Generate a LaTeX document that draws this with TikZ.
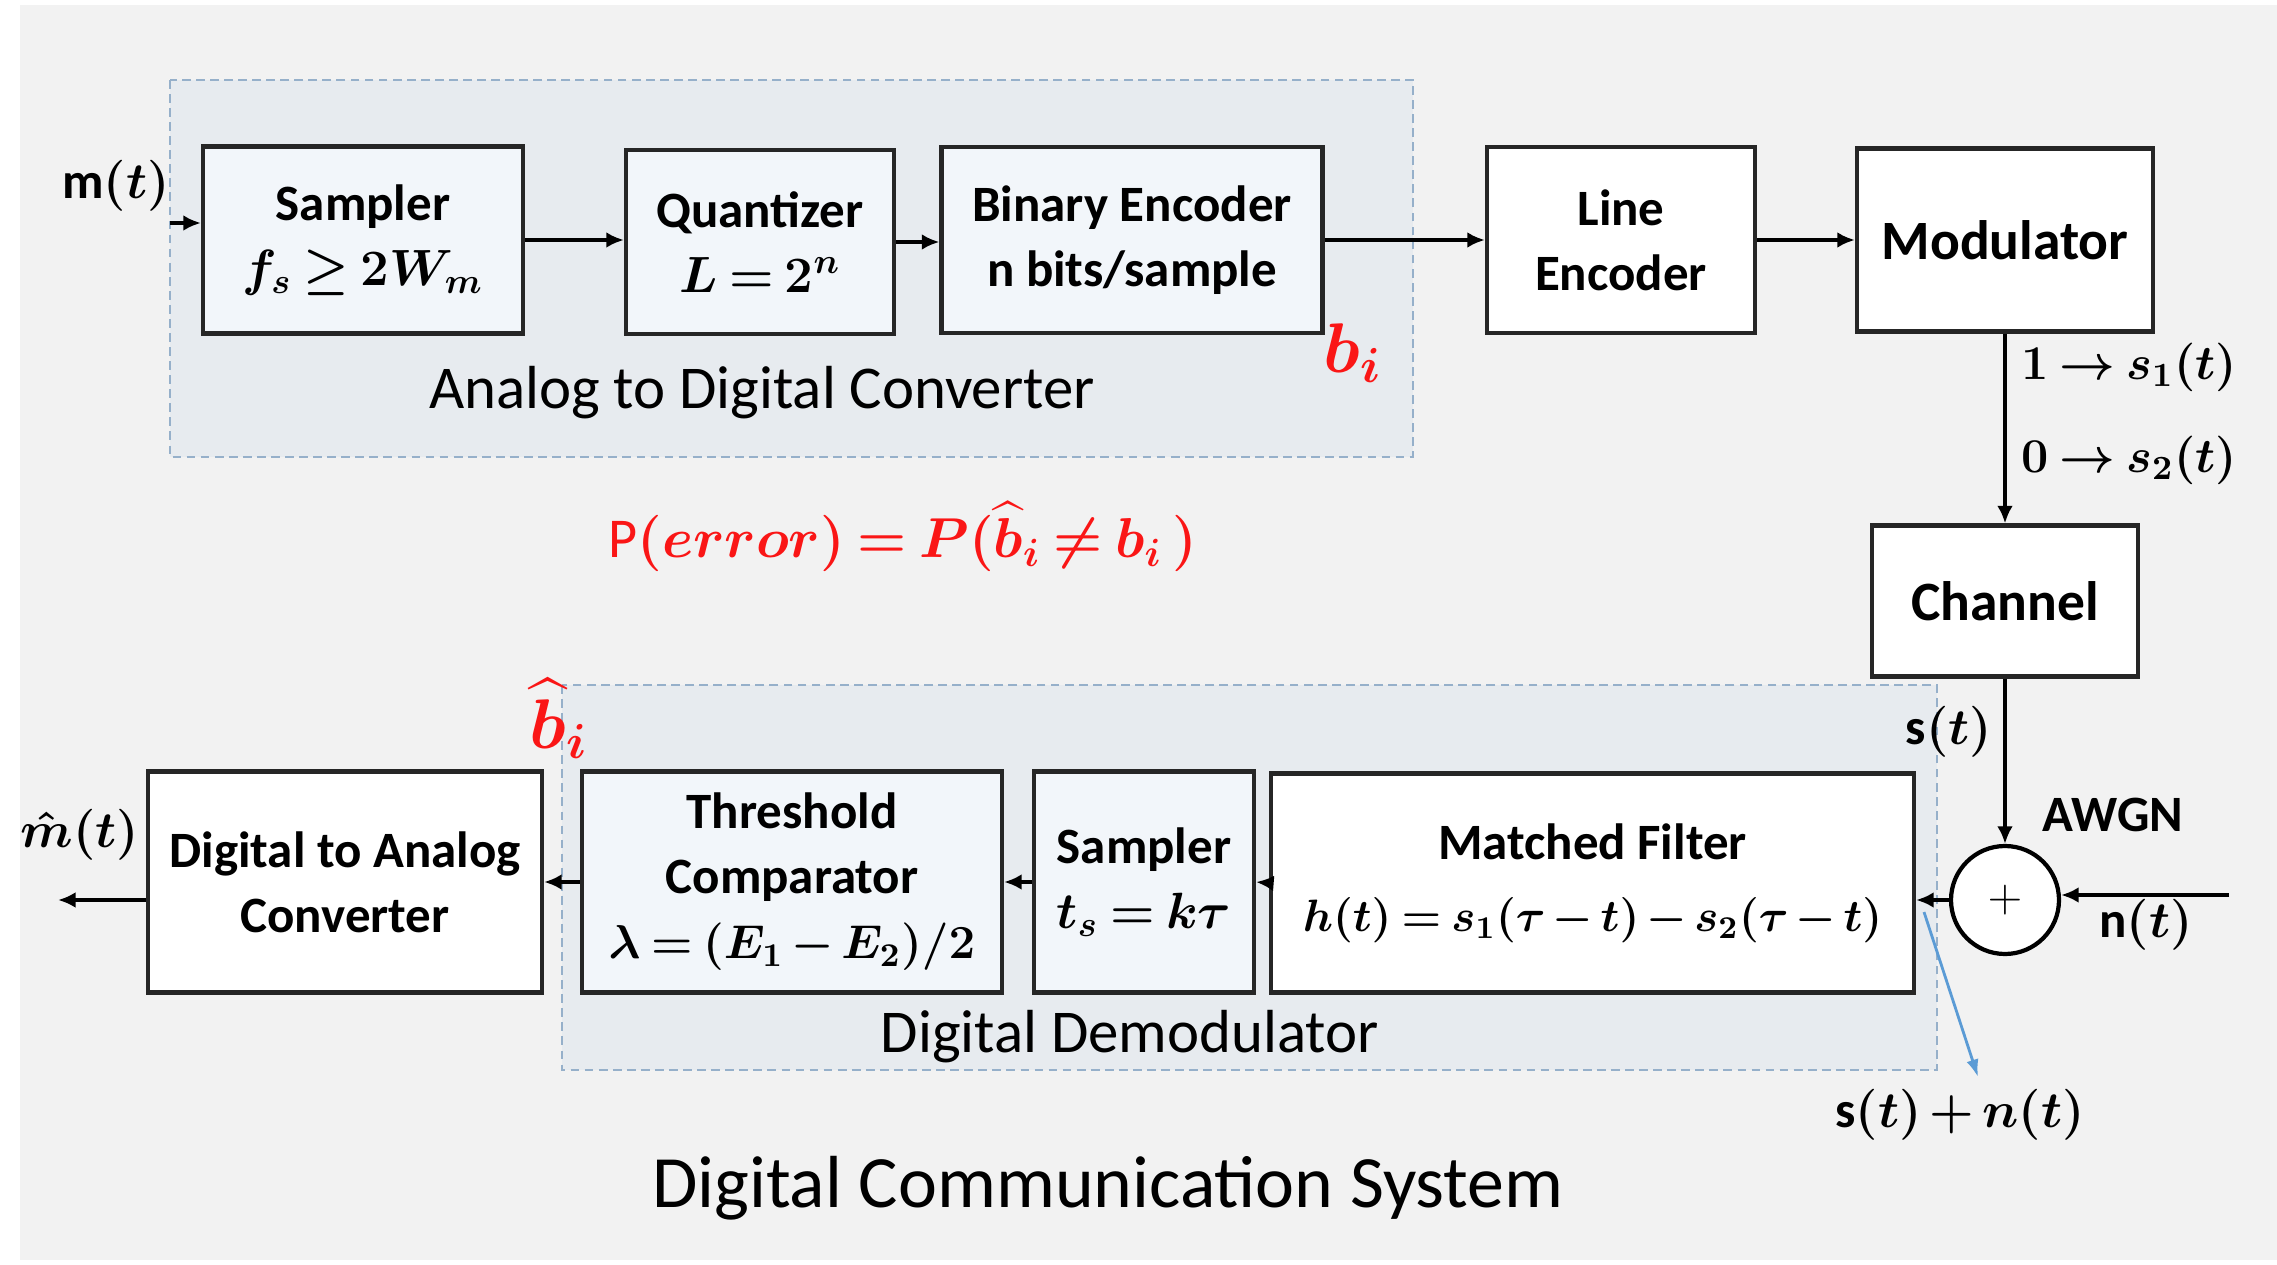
\documentclass[tikz,border=0pt]{standalone}
\usepackage{fix-cm}
\usepackage{fontspec}
\setmainfont{Carlito}
\usepackage{amsmath,amssymb}
\usepackage{tikz}
\usetikzlibrary{arrows.meta,positioning,calc}
\definecolor{bggray}{RGB}{242,242,242}
\definecolor{groupgray}{RGB}{231,235,239}
\definecolor{paleblue}{RGB}{242,246,250}
\definecolor{dashblue}{RGB}{150,176,202}
\definecolor{errred}{RGB}{250,22,22}
\definecolor{noiseblue}{RGB}{91,155,213}
\newcommand{\tightmath}{\medmuskip=2.5mu plus 1mu minus 1mu\thickmuskip=3.5mu plus 1mu minus 1mu}
\newcommand{\boxfont}{\fontsize{14.5}{18.5}\selectfont\bfseries\boldmath\tightmath}
\newcommand{\bigboxfont}{\fontsize{15.8}{19}\selectfont\bfseries\boldmath}
\newcommand{\grpfont}{\fontsize{17.3}{21}\selectfont}
\newcommand{\titlefont}{\fontsize{21}{25}\selectfont}
\tikzstyle{block} = [draw=black!85, line width=1.2pt, fill=white, align=center, font=\boxfont, inner sep=1pt]
\tikzstyle{inblock} = [block, fill=paleblue]
\tikzstyle{group} = [draw=dashblue, line width=0.6pt, dash pattern=on 2.5pt off 1.5pt, fill=groupgray]
\tikzstyle{line} = [draw, line width=1.2pt, -{Latex[length=5pt,width=4.5pt]}]
\tikzstyle{noiseline} = [draw=noiseblue, line width=0.8pt, -{Latex[length=5pt,width=3.5pt]}]
\tikzstyle{lbl} = [font=\boxfont, inner sep=0pt]
\tikzstyle{redlbl} = [font=\fontsize{20}{24}\selectfont\boldmath, text=errred, inner sep=0pt]
\tikzset{>=latex}

\begin{document}
\begin{tikzpicture}
    \useasboundingbox (0,0) rectangle (22.77,-12.65);
    \fill [bggray] (0.2,-0.05) rectangle (22.77,-12.6);

    % transmitter
    \draw [group] (1.70,-0.80) rectangle (14.13,-4.57);
    \node [inblock, minimum width=3.2cm, minimum height=1.87cm] (samp) at (3.63,-2.40) {Sampler\\$f_s \geq 2W_m$};
    \node [inblock, minimum width=2.68cm, minimum height=1.84cm] (quant) at (7.60,-2.42) {Quantizer\\$L = 2^n$};
    \node [inblock, minimum width=3.81cm, minimum height=1.86cm] (benc) at (11.32,-2.40) {Binary Encoder\\n bits/sample};
    \node [block, minimum width=2.68cm, minimum height=1.86cm] (lenc) at (16.21,-2.40) {Line\\Encoder};
    \node [block, font=\bigboxfont, minimum width=2.96cm, minimum height=1.83cm] (mod) at (20.05,-2.40) {Modulator};
    \node [block, font=\bigboxfont, minimum width=2.66cm, minimum height=1.51cm] (chan) at (20.05,-6.01) {Channel};
    \node [draw=black, line width=1.2pt, fill=white, circle, minimum size=1.08cm, inner sep=0pt, font=\fontsize{13}{13}\selectfont] (sum) at (20.05,-9.00) {$+$};

    \node [font=\grpfont] (adc) at (7.62,-3.93) {Analog to Digital Converter};
    \node [lbl] (min lbl) at (1.16,-1.86) {m$(t)$};
    \node [redlbl] (bi) at (13.53,-3.53) {$b_i$};
    \node [font=\fontsize{16}{19}\selectfont\boldmath\tightmath, text=errred] (perr) at (9.03,-5.37) {P$(error) = P(\widehat{b}_i \neq b_i\,)$};
    \node [lbl, font=\fontsize{13.8}{16}\selectfont\boldmath\tightmath, anchor=west] (one) at (20.21,-3.67) {$1 \rightarrow s_1(t)$};
    \node [lbl, font=\fontsize{13.8}{16}\selectfont\boldmath\tightmath, anchor=west] (zero) at (20.21,-4.60) {$0 \rightarrow s_2(t)$};
    \node [lbl] (awgn) at (21.13,-8.15) {AWGN};
    \node [lbl] (nt) at (21.46,-9.25) {n$(t)$};

    \coordinate (min) at (1.70,-2.23);
    \draw [line] (min) -- (min -| samp.west);
    \draw [line] (samp.east) -- (samp.east -| quant.west);
    \draw [line] (quant.east) -- (quant.east -| benc.west);
    \draw [line] (benc.east) -- (benc.east -| lenc.west);
    \draw [line] (lenc.east) -- (lenc.east -| mod.west);
    \draw [line] (mod.south) -- (chan.north);
    \draw [line] (chan.south) -- (sum.north);
    \coordinate (nin) at (22.29,-8.95);
    \draw [line] (nin) -- (nin -| sum.east);

    % receiver
    \draw [group] (5.62,-6.85) rectangle (19.37,-10.70);
    \node [block, minimum width=6.43cm, minimum height=2.19cm] (mf) at (15.925,-8.83) {Matched Filter\\[2pt]{\fontsize{12.9}{15}\selectfont$h(t) = s_1(\tau - t) - s_2(\tau - t)$}};
    \node [inblock, minimum width=2.2cm, minimum height=2.21cm] (samp2) at (11.44,-8.82) {Sampler\\$t_s = k\tau$};
    \node [inblock, minimum width=4.2cm, minimum height=2.21cm] (thr) at (7.92,-8.82) {Threshold\\Comparator\\{\fontsize{13.5}{16}\selectfont$\lambda = (E_1 - E_2)/2$}};
    \node [block, minimum width=3.94cm, minimum height=2.21cm] (dac) at (3.45,-8.82) {Digital to Analog\\Converter};

    \node [font=\grpfont] (demod) at (11.30,-10.37) {Digital Demodulator};
    \node [lbl] (st) at (19.49,-7.32) {s$(t)$};
    \node [redlbl] (bhat) at (5.59,-7.19) {$\widehat{b}_i$};
    \node [lbl] (mhat) at (0.80,-8.35) {$\hat{m}(t)$};
    \node [lbl] (snt) at (19.60,-11.15) {s$(t) + n(t)$};
    \node [font=\titlefont] (title) at (11.08,-11.88) {Digital Communication System};

    \draw [line] (sum.west) -- (sum.west -| mf.east);
    \draw [line] (mf.west) -- (samp2.east);
    \draw [line] (samp2.west) -- (thr.east);
    \draw [line] (thr.west) -- (dac.east);
    \coordinate (mout) at (0.58,-9.00);
    \draw [line] (dac.west |- mout) -- (mout);
    \coordinate (sna) at (19.24,-9.12);
    \coordinate (snb) at (19.78,-10.77);
    \draw [noiseline] (sna) -- (snb);
\end{tikzpicture}
\end{document}
